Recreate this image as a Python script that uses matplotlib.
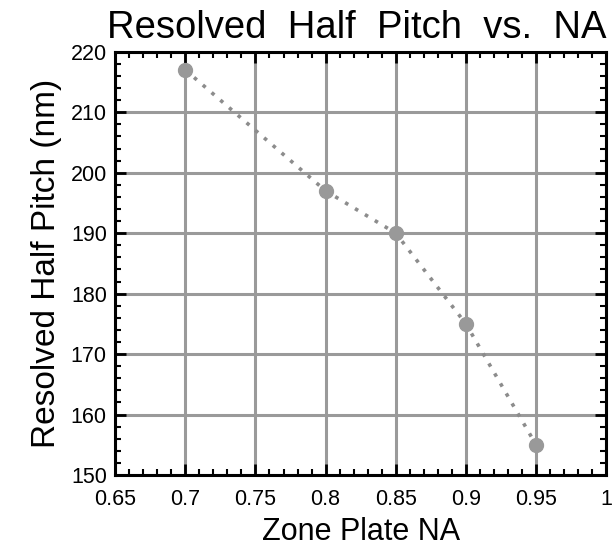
import matplotlib
matplotlib.use("Agg")
import matplotlib.pyplot as plt
from matplotlib.ticker import MultipleLocator

plt.rcParams['font.family'] = ['Liberation Sans', 'DejaVu Sans']

# data
zone_plate_na = [0.70, 0.80, 0.85, 0.90, 0.95]
half_pitch_nm = [217, 197, 190, 175, 155]
x_ticks = [0.65, 0.7, 0.75, 0.8, 0.85, 0.9, 0.95, 1.0]
x_ticklabels = ['0.65', '0.7', '0.75', '0.8', '0.85', '0.9', '0.95', '1']
y_ticks = [150, 160, 170, 180, 190, 200, 210, 220]

fig = plt.figure(figsize=(6.16, 5.51), dpi=100)
ax = fig.add_axes([0.187, 0.138, 0.797, 0.768])

ax.plot(zone_plate_na, half_pitch_nm, linestyle=(0, (1, 2.2)), color='#8c8c8c',
        linewidth=2.6, marker='o', markersize=10, markerfacecolor='#999999',
        markeredgecolor='#999999', zorder=3)

ax.set_xlim(0.65, 1.0)
ax.set_ylim(150, 220)
ax.set_xticks(x_ticks)
ax.set_xticklabels(x_ticklabels)
ax.set_yticks(y_ticks)
ax.xaxis.set_minor_locator(MultipleLocator(0.01))
ax.yaxis.set_minor_locator(MultipleLocator(2))

ax.grid(True, which='major', color='#9a9a9a', linewidth=2.2)
ax.set_axisbelow(True)
ax.tick_params(which='both', direction='in', top=True, right=True,
               color='black', labelsize=15.5)
ax.tick_params(which='major', length=8, width=2)
ax.tick_params(which='minor', length=4, width=1.5)
ax.tick_params(axis='x', pad=10)
ax.tick_params(axis='y', pad=6)
for sp in ax.spines.values():
    sp.set_linewidth(2.2)
    sp.set_color('black')

ax.set_title('Resolved  Half  Pitch  vs.  NA', fontsize=27.5, pad=10, loc='right')
ax.set_xlabel('Zone Plate NA', fontsize=22, labelpad=5)
ax.set_ylabel('Resolved Half Pitch (nm)', fontsize=24, labelpad=6)

fig.savefig('out.png', dpi=100)
